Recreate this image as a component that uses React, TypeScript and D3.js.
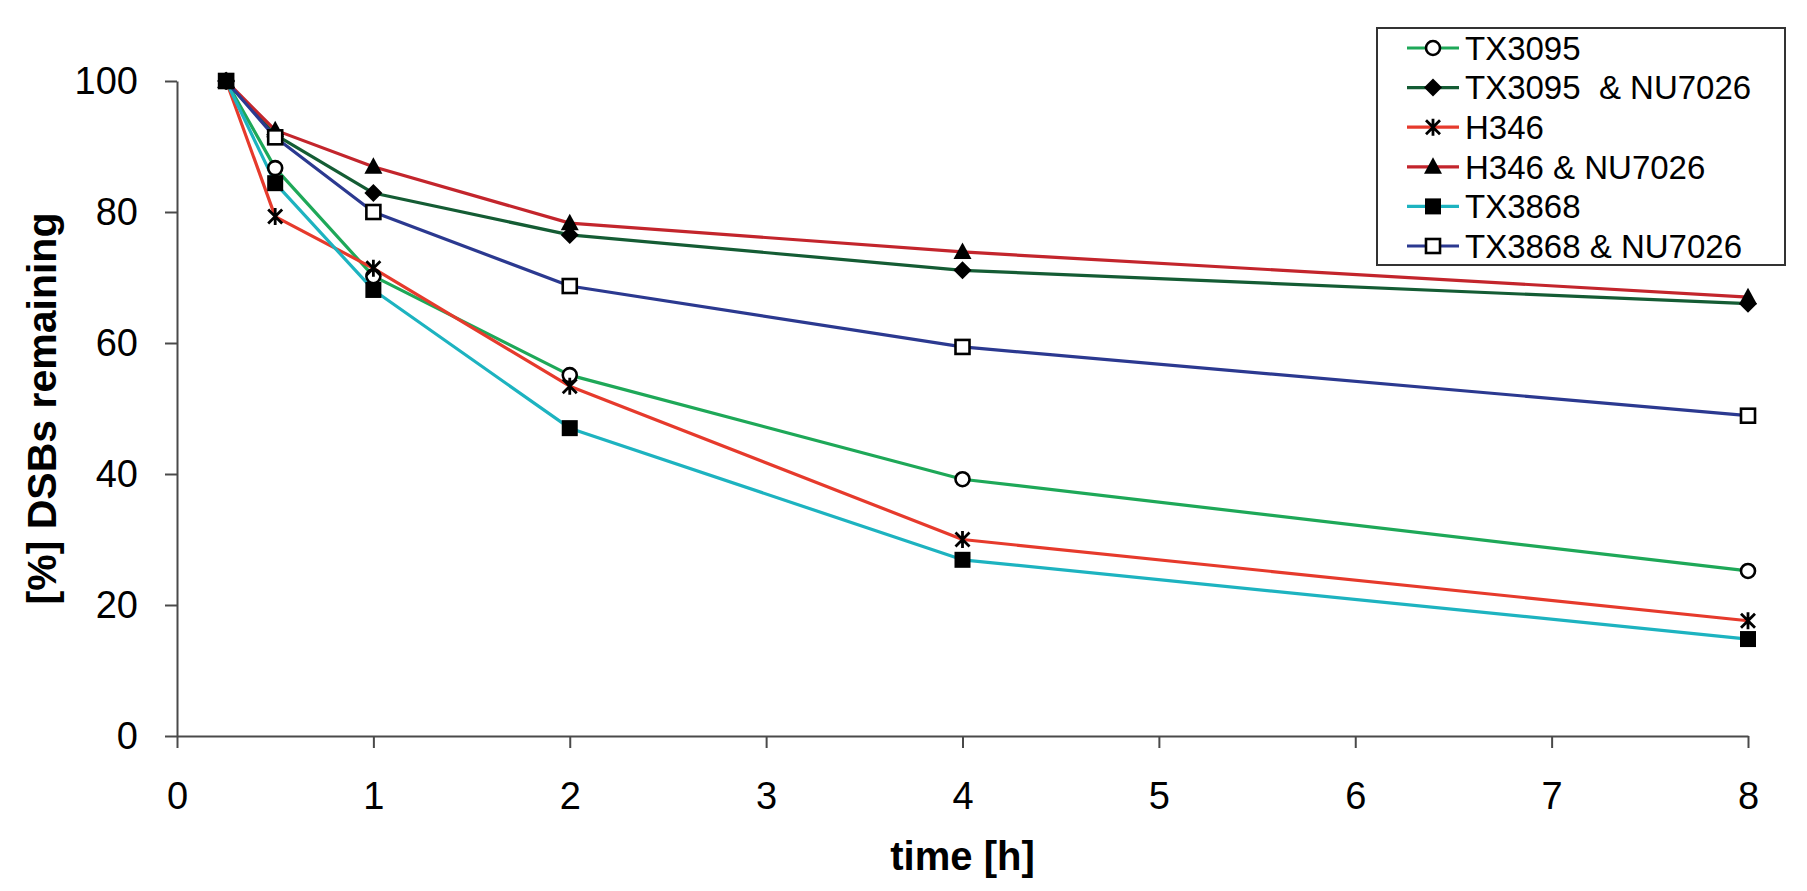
import React, {useEffect, useRef} from "react";
import * as d3 from "d3";

// time points [h]
const times = [0.25, 0.5, 1, 2, 4, 8];

// [%] DSBs remaining
const tx3095 = [100, 86.7, 70.2, 55.1, 39.2, 25.2];
const tx3095Nu = [100, 91.8, 82.9, 76.5, 71.1, 66.0];
const h346 = [100, 79.3, 71.4, 53.4, 30.0, 17.6];
const h346Nu = [100, 92.5, 86.9, 78.3, 73.9, 67.0];
const tx3868 = [100, 84.4, 68.1, 47.0, 26.9, 14.8];
const tx3868Nu = [100, 91.4, 80.0, 68.7, 59.4, 48.9];

const seriesNames = ["TX3095", "TX3095  & NU7026", "H346", "H346 & NU7026", "TX3868", "TX3868 & NU7026"];
const seriesColors = ["#1ea858", "#145c34", "#e63a2c", "#c3252c", "#1db3c0", "#2b3990"];
const seriesMarkers = ["circle", "diamond", "star", "triangle", "square", "openSquare"];
const seriesValues = [tx3095, tx3095Nu, h346, h346Nu, tx3868, tx3868Nu];
// order in which the markers are stacked (last on top)
const markerOrder = [0, 1, 2, 3, 5, 4];

const xTicks = [0, 1, 2, 3, 4, 5, 6, 7, 8];
const yTicks = [0, 20, 40, 60, 80, 100];

const FONT = "'Liberation Sans', Arial, Helvetica, sans-serif";

function drawMarker(g: d3.Selection<SVGGElement, unknown, null, undefined>, kind: string, x: number, y: number) {
    const m = g.append("g").attr("transform", `translate(${x},${y})`);
    if (kind === "circle") {
        m.append("circle").attr("r", 7).attr("fill", "white").attr("stroke", "black").attr("stroke-width", 2.6);
    } else if (kind === "diamond") {
        m.append("path").attr("d", "M0,-9L9,0L0,9L-9,0Z").attr("fill", "black");
    } else if (kind === "triangle") {
        m.append("path").attr("d", "M0,-9.5L9,7L-9,7Z").attr("fill", "black");
    } else if (kind === "square") {
        m.append("rect").attr("x", -8).attr("y", -8).attr("width", 16).attr("height", 16).attr("fill", "black");
    } else if (kind === "openSquare") {
        m.append("rect").attr("x", -7).attr("y", -7).attr("width", 14).attr("height", 14)
            .attr("fill", "white").attr("stroke", "black").attr("stroke-width", 2.6);
    } else if (kind === "star") {
        m.append("path")
            .attr("d", "M0,-8.5L0,8.5M-7,-7L7,7M7,-7L-7,7")
            .attr("stroke", "black").attr("stroke-width", 2.8).attr("fill", "none");
    }
}

const DsbChart: React.FC = () => {
    const svgRef = useRef<SVGSVGElement>(null);
    const width = 1807;
    const height = 891;
    const margin = {top: 81, right: 59, bottom: 155, left: 177};

    useEffect(() => {
        const svg = d3.select(svgRef.current);
        svg.selectAll("*").remove();

        const xScale = d3.scaleLinear().domain([0, 8]).range([margin.left, width - margin.right]);
        const yScale = d3.scaleLinear().domain([0, 100]).range([height - margin.bottom, margin.top]);

        svg.append("rect").attr("width", width).attr("height", height).attr("fill", "white");

        const axisColor = "#4a4a4a";

        // x axis
        const xAxis = svg.append("g")
            .attr("transform", `translate(0, ${yScale(0)})`)
            .call(d3.axisBottom(xScale).tickValues(xTicks).tickSize(12).tickSizeOuter(0).tickPadding(34));
        xAxis.select(".domain").attr("stroke", axisColor).attr("stroke-width", 2);
        xAxis.selectAll(".tick line").attr("stroke", axisColor).attr("stroke-width", 2);
        xAxis.selectAll(".tick text")
            .attr("font-family", FONT).attr("font-size", 38).attr("fill", "black");

        // y axis
        const yAxis = svg.append("g")
            .attr("transform", `translate(${xScale(0)}, 0)`)
            .call(d3.axisLeft(yScale).tickValues(yTicks).tickSize(12).tickSizeOuter(0).tickPadding(27));
        yAxis.select(".domain").attr("stroke", axisColor).attr("stroke-width", 2);
        yAxis.selectAll(".tick line").attr("stroke", axisColor).attr("stroke-width", 2);
        yAxis.selectAll(".tick text")
            .attr("font-family", FONT).attr("font-size", 38).attr("fill", "black");

        // axis titles
        svg.append("text")
            .attr("x", (xScale(0) + xScale(8)) / 2)
            .attr("y", 870)
            .attr("text-anchor", "middle")
            .attr("font-family", FONT).attr("font-size", 40).attr("font-weight", "bold")
            .text("time [h]");

        svg.append("text")
            .attr("transform", `translate(56, ${(yScale(0) + yScale(100)) / 2}) rotate(-90)`)
            .attr("text-anchor", "middle")
            .attr("font-family", FONT).attr("font-size", 41).attr("font-weight", "bold")
            .text("[%] DSBs remaining");

        // lines
        const line = d3.line<number>()
            .x((d, i) => xScale(times[i]))
            .y(d => yScale(d));

        seriesValues.forEach((vals, si) => {
            svg.append("path")
                .datum(vals)
                .attr("fill", "none")
                .attr("stroke", seriesColors[si])
                .attr("stroke-width", 3.2)
                .attr("stroke-linejoin", "round")
                .attr("d", line);
        });

        markerOrder.forEach(si => {
            const mg = svg.append("g");
            seriesValues[si].forEach((v, i) => drawMarker(mg, seriesMarkers[si], xScale(times[i]), yScale(v)));
        });

        // legend
        const legend = svg.append("g").attr("transform", "translate(1377, 28)");
        legend.append("rect")
            .attr("width", 408).attr("height", 237)
            .attr("fill", "white").attr("stroke", "#333").attr("stroke-width", 2);
        seriesNames.forEach((name, i) => {
            const cy = 20 + i * 39.6;
            legend.append("line")
                .attr("x1", 30).attr("x2", 82).attr("y1", cy).attr("y2", cy)
                .attr("stroke", seriesColors[i]).attr("stroke-width", 3.2);
            drawMarker(legend, seriesMarkers[i], 56, cy);
            legend.append("text")
                .attr("x", 88).attr("y", cy).attr("dy", "0.36em")
                .attr("font-family", FONT).attr("font-size", 33)
                .style("white-space", "pre")
                .text(name);
        });
    }, []);

    return <svg ref={svgRef} width={width} height={height}
                style={{position: "absolute", left: 0, top: 0, display: "block"}}></svg>;
};

export default function App() {
    return <DsbChart/>;
}
